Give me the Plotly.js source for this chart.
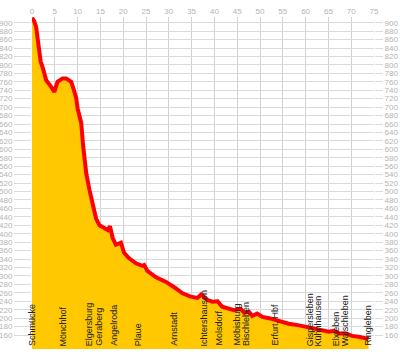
<!DOCTYPE html>
<html>
<head>
<meta charset="utf-8">
<script src="https://cdn.plot.ly/plotly-3.0.1.min.js"></script>
<style>
html,body{margin:0;padding:0;background:#fff;}
#chart{width:400px;height:356px;}
</style>
</head>
<body>
<div id="chart"></div>
<script>
// Distance along route (km) and elevation (m)
const distanceKm = [0, 0.5, 0.9, 1.3, 1.9, 2.4, 3.1, 4.2, 4.9, 5.6, 6.7, 7.5, 8.6, 9.2, 9.7, 10.0, 10.4, 10.8, 11.2, 11.6, 11.9, 12.6, 13.3, 14.05, 14.8, 15.9, 16.6, 17.1, 17.7, 18.4, 19.0, 19.5, 20.2, 21.3, 22.8, 24.2, 24.6, 25.3, 27.2, 29.4, 31.5, 33.0, 34.8, 36.3, 37.1, 38.5, 39.6, 40.7, 41.7, 43.2, 44.3, 45.8, 46.5, 47.6, 48.3, 49.4, 50.5, 52.0, 53.4, 54.9, 56.3, 58.6, 60.8, 63.0, 65.1, 66.2, 67.3, 68.8, 70.2, 71.6, 72.8, 73.8];
const elevationM = [912, 903, 890, 851, 808, 792, 764, 748, 736, 760, 768, 768, 760, 740, 721, 697, 675, 662, 610, 575, 543, 504, 472, 436, 420, 413, 409, 418, 390, 374, 378, 379, 355, 342, 330, 324, 326, 312, 297, 286, 271, 259, 251, 248, 256, 243, 239, 240, 227, 223, 219, 222, 213, 215, 205, 211, 203, 200, 196, 192, 187, 183, 178, 173, 168, 170, 164, 164, 158, 156, 152, 151];

// Stations along the route
const stationNames = ["Schmücke", "Mönchhof", "Elgersburg<br>Geraberg", "Angelroda", "Plaue", "Arnstadt", "Ichtershausen", "Molsdorf", "Möbisburg<br>Bischleben", "Erfurt, Hbf", "Gispersleben", "Kühnhausen", "Elxleben", "Walschleben", "Ringleben"];
const stationKm = [0, 6.9, 13.6, 17.8, 23.2, 31.1, 37.7, 40.8, 45.9, 53.2, 60.9, 62.7, 66.6, 68.6, 73.5];

// Tick values
const xTicks = [0, 5, 10, 15, 20, 25, 30, 35, 40, 45, 50, 55, 60, 65, 70, 75];
const yTicks = [160, 180, 200, 220, 240, 260, 280, 300, 320, 340, 360, 380, 400, 420, 440, 460, 480, 500, 520, 540, 560, 580, 600, 620, 640, 660, 680, 700, 720, 740, 760, 780, 800, 820, 840, 860, 880, 900];

const yRange = [127, 913.5];
const tickFont = {family: "Liberation Sans, Arial, sans-serif", size: 8, color: "#b4b4b4"};

const traces = [
  {
    x: distanceKm, y: elevationM, type: "scatter", mode: "lines",
    line: {color: "#ff0000", width: 4, shape: "linear"},
    fill: "tozeroy", fillcolor: "#ffc800",
    hoverinfo: "skip", showlegend: false
  },
  {
    x: [0], y: [yRange[0]], yaxis: "y2", type: "scatter", mode: "markers",
    marker: {opacity: 0}, hoverinfo: "skip", showlegend: false
  }
];

const annotations = [];
stationNames.forEach((name, i) => {
  const lines = name.split("<br>");
  lines.forEach((ln, j) => {
    annotations.push({
      x: stationKm[i], xref: "x",
      y: 0, yref: "paper",
      text: ln, textangle: -90,
      xanchor: "center", yanchor: "bottom", align: "left",
      showarrow: false, yshift: 1,
      xshift: (j - (lines.length - 1) / 2) * 9.5,
      font: {family: "Liberation Sans, Arial, sans-serif", size: 9, color: "#222"}
    });
  });
});

const layout = {
  width: 400, height: 356,
  margin: {l: 32, r: 25.5, t: 17, b: 7, pad: 0},
  paper_bgcolor: "#ffffff", plot_bgcolor: "#ffffff",
  showlegend: false,
  xaxis: {
    range: [0, 75], side: "top", tickvals: xTicks, ticktext: xTicks.map(String),
    showgrid: true, gridcolor: "#d2d2d2", gridwidth: 1,
    zeroline: false, showline: false, ticks: "", tickfont: tickFont, fixedrange: true
  },
  yaxis: {
    range: yRange, tickvals: yTicks, ticktext: yTicks.map(String),
    showgrid: true, gridcolor: "#dadada", gridwidth: 1,
    ticks: "outside", ticklen: 17, tickcolor: "#dadada", tickwidth: 1,
    zeroline: false, showline: false, tickfont: tickFont, fixedrange: true
  },
  yaxis2: {
    range: yRange, overlaying: "y", side: "right", tickvals: yTicks, ticktext: yTicks.map(String),
    showgrid: false, ticks: "outside", ticklen: 8, tickcolor: "#dadada", tickwidth: 1,
    zeroline: false, showline: false, tickfont: tickFont, fixedrange: true
  },
  annotations: annotations
};

Plotly.newPlot("chart", traces, layout, {displayModeBar: false, staticPlot: true});
</script>
</body>
</html>
